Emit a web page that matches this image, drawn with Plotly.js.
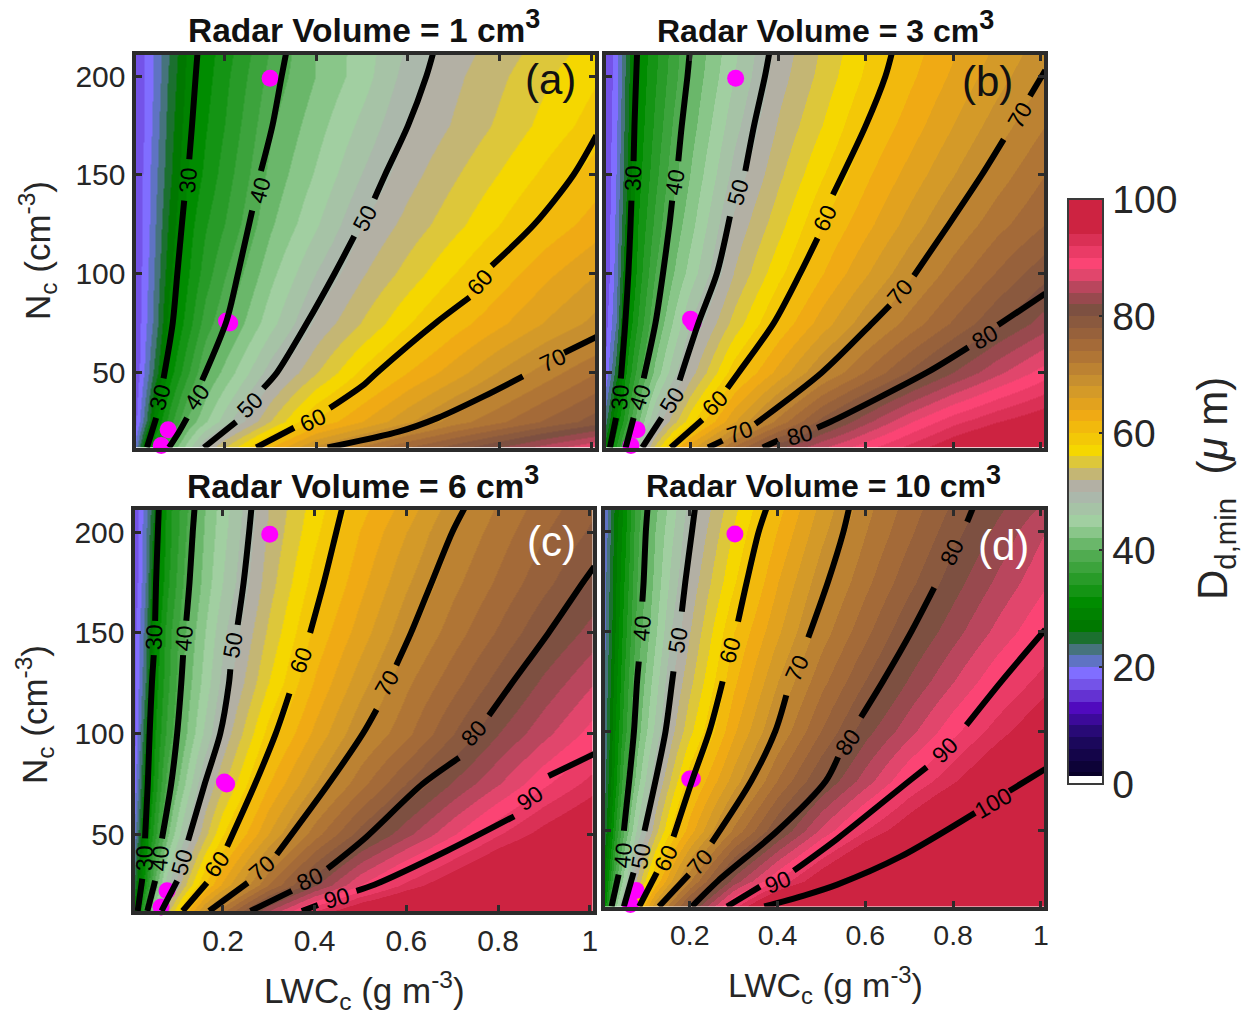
<!DOCTYPE html>
<html><head><meta charset="utf-8">
<script src="https://cdn.plot.ly/plotly-3.0.0.min.js"></script>
<style>html,body{margin:0;padding:0;background:#fff}</style></head>
<body><div id="chart" style="width:1255px;height:1021px"></div>
<script>
const lwc=[0.005,0.03,0.05,0.08,0.12,0.16,0.2,0.3,0.4,0.5,0.6,0.7,0.8,0.9,1.01];
const nc=[12,25,50,75,100,125,150,175,200,212];
const zA=[
[20,29.5,34,40,45,50.3,54,62,68.7,72.5,76,79,82,85,88],
[17,24,30,35,40.4,43.8,47,54,60.4,64,67.6,71,73.6,76.3,79],
[16,21,25,31,35.6,40,42.6,49,53.9,58.5,62,65,68.2,71,74],
[16,20,23,29,33,37,39.6,45.3,50.5,54.2,57.8,61,63.6,66.2,68.7],
[16,19.5,22.5,27.5,31.7,35,37.8,43.4,48.1,51.8,54.8,57.9,60.8,63.5,66],
[16,19,22,26.5,31,33.8,36,41.7,45.8,50,52.7,55.3,58,60.6,63],
[16,19,21.5,25.5,30,32.5,34.9,40.6,44.3,48.1,51.2,53.7,56.1,58.5,61],
[16,18.5,21,25,29.2,31.8,34,39.7,43.2,46.6,50,52.2,54.4,56.7,59],
[16,18.5,20.5,24.5,28.5,31.2,33.4,38.7,42.1,45.1,48.9,51.5,53.6,55.7,57.8],
[16,18.5,20.5,24,28.4,31,33,38.2,42.1,45,48.3,51,53,55,57]];
const zB=[
[27,34,39.5,47,54.6,60.6,65.3,74.4,81.5,85.7,89.3,92.7,96,98.7,100],
[23,30.5,35,41.7,48.3,53.2,57.4,65.8,72.7,78.8,83.5,87.8,91.3,93.9,96],
[18,25,31.5,37,42.6,47.2,51.2,59.2,64.7,70,74.2,78.3,82,85.5,89],
[17,22,29.5,34.2,40,44.2,48.2,54.8,60.4,65,69.3,72.9,76.3,79.7,83],
[16,21,27.5,32.8,38,41.9,45,52.1,57.4,61.9,65.8,69.6,73,76.2,79.4],
[16,20.5,26,32,36.5,40.6,43.4,50.5,55.2,60,63.4,66.9,70.3,73.3,76],
[16,20,25,31.2,35.3,39.3,42.2,48.7,53.5,57.8,61.6,64.8,67.9,71,74],
[16,19.5,24.5,30.7,34.4,38.2,41.2,47.3,52.2,56,60,63,66,69,72],
[16,19,24,30.3,33.7,37.2,40.4,46,51.1,54.7,58.4,61.6,64.4,67.2,70],
[16,19,23.5,30.2,33.4,36.9,40.1,45.6,50.7,54.3,57.9,61.1,63.8,66.5,69.2]];
const zC=[
[27,37.5,45,53.2,61.4,68.3,73.3,84,92,97,100,102,104,105,106],
[24,33.5,40.5,47.6,54.3,60,64.4,74,81.6,88,92.6,96.3,100,102,104],
[20,30,35,41.7,48.3,53.3,57.8,66,73.1,78.9,83.4,87.7,91.8,95,98],
[18,28,32.7,39,44.5,50,53.6,61.9,68,73.3,78.1,82.2,85.9,89.6,93],
[17,26,31.7,36.7,42,46.4,50.5,58.8,64.5,69.7,73.5,77.9,82,85.4,89],
[17,24,30.8,35.5,41,44.8,48.6,56,62.2,67.2,71.6,75.2,78.9,82.5,86],
[17,23,30,35,40.3,43.9,47.5,54.4,60.5,65,69.5,73,76.3,79.7,83],
[16,22,28.5,33.6,39,42.8,46,53.1,58.9,63.4,67.7,71.4,74.4,77.4,80.5],
[16,21.5,27,33,38.1,42.2,45.3,52.3,57.5,62.1,66,70,73,75.8,78.5],
[16,21,26,33,37.7,41.9,45,52,57,61.3,64.9,69,72.3,75,77.7]];
const zD=[
[30,43,50,58.6,67.8,74,79.7,91.5,101,108,112,115,115,115,115],
[28,39,45,52.5,60.3,66.3,71.9,83,90.3,96.4,102,106,110,112,115],
[24,34,40,46.4,53.2,58.6,63.2,72.6,80,86.5,92,96.2,100.4,104.5,108],
[23,31,37.5,43,49.7,54.6,59.4,67,74.2,80,85,90,93.7,97.4,101],
[22,30,35,41,46.5,51.5,55.5,63.7,70.3,76,81.2,85.3,89.4,93,96.5],
[22,29,34,40,45,50,53.5,61.6,68,73.3,78,82.2,85.9,89.6,93],
[21,28,33,38.8,43.6,48.2,52,60,65.7,71,75.4,79.8,83.2,86.6,90],
[21,27.5,32,38,42.6,46.8,50.7,57.8,64,69.2,73.4,77.4,81.1,84.4,87.7],
[20,27,31,37.5,42,45.7,49.5,56.3,62.2,67.4,71.9,75.6,79.3,82.5,86],
[20,26.5,30.5,37,41.5,45.1,48.9,55.5,61.3,66.6,71.3,74.9,78.4,81.5,84.5]];
// Iso-lines: [LWC values],[Nc values]; null marks the gap left for a label
const _=null;
const linesA=[
 [[.032,.052,_,.068,.088,.098,.108,.113,_,.124,.13,.138,.142],[12,27,_,47,75,100,125,137,_,158,175,200,212]],
 [[.08,.102,.119,_,.152,.205,.23,.261,_,.28,.305,.325,.335],[12,20,27,_,46,76,100,132,_,152,175,200,212]],
 [[.156,.226,_,.285,.315,.38,.44,.483,_,.527,.55,.60,.64,.655],[12,25,_,42,50,75,100,119,_,138,150,175,200,212]],
 [[.27,.352,_,.43,.505,.533,.66,.734,_,.782,.875,.96,1.01],[12,22,_,32,44,50,75,88,_,104,125,150,170]],
 [[.425,.58,.665,.766,.85,_,.94,1.01],[12,20,27,38,48,_,60,68]]];
const linesB=[
 [[.016,.03,_,.041,.051,.058,.063,.065,_,.07,.072,.076,.078],[12,27,_,47,75,100,125,137,_,157,175,200,212]],
 [[.052,.07,_,.093,.12,.137,.152,.158,_,.172,.18,.193,.198],[12,27,_,47,75,100,125,137,_,157,175,200,212]],
 [[.09,.134,_,.175,.218,.26,.29,_,.325,.345,.37,.38],[12,27,_,46,75,100,129,_,152,175,200,212]],
 [[.155,.227,_,.284,.31,.39,.45,.49,_,.525,.60,.645,.66],[12,26,_,42,50,75,100,118,_,140,175,200,212]],
 [[.24,.273,_,.348,.50,.615,.655,_,.71,.79,.865,.915,_,.975,1.01],[12,15.5,_,24,50,75,84,_,99,125,150,168,_,190,203]],
 [[.365,.40,_,.489,.52,.74,.834,_,.902,1.01],[12,15.5,_,22,25,50,62.7,_,74,90]]];
const linesC=[
 [[.014,.024,_,.03,.036,.04,.045,.049,_,.052,.054,.058,.06],[12,28,_,48,75,100,125,139,_,156,175,200,212]],
 [[.035,.052,_,.067,.087,.10,.109,.113,_,.12,.127,.134,.138],[12,27,_,48,75,100,125,139,_,156,175,200,212]],
 [[.066,.10,_,.124,.16,.194,.213,.216,_,.232,.245,.257,.262],[12,27,_,47,75,100,125,132,_,154,175,200,212]],
 [[.112,.165,_,.209,.27,.315,.345,_,.39,.42,.447,.46],[12,26,_,44,75,100,120,_,150,175,200,212]],
 [[.17,.254,_,.317,.43,.505,.535,_,.578,.61,.655,.70,.727],[12,26,_,40,75,100,112,_,134,150,175,200,212]],
 [[.26,.35,_,.428,.509,.635,.715,_,.78,.83,.91,.985,1.01],[12,22,_,33,48,75,88,_,109,125,150,175,183]],
 [[.372,.407,_,.491,.53,.69,.835,_,.91,1.01],[12,15,_,22,25,42,59,_,79,90]]];
const linesD=[
 [[.022,.038,_,.05,.062,.073,.08,.084,_,.092,.095,.10,.104],[12,28,_,50,75,100,125,135,_,165,175,200,212]],
 [[.05,.072,_,.097,.122,.145,.16,.163,_,.182,.19,.205,.212],[12,29,_,50,75,100,125,130,_,160,175,200,212]],
 [[.085,.125,_,.163,.205,.245,.275,_,.31,.33,.357,.375],[12,29,_,47,75,100,125,_,155,175,200,212]],
 [[.13,.198,_,.25,.34,.395,.42,_,.47,.515,.55,.563],[12,28,_,44,75,100,118,_,147,175,200,212]],
 [[.205,.265,.40,.51,.538,_,.59,.64,.705,.757,_,.832,.845],[12,25,50,75,87,_,107,125,150,172,_,205,212]],
 [[.285,.36,_,.437,.536,.70,.74,_,.83,.91,1.01],[12,22,_,30,46,75,82,_,103,125,151]],
 [[.37,.46,.536,.68,.85,_,.928,1.01],[12,17.5,23,37,59,_,70,81]]];
// Inline labels: text, page x, page y, rotation
const labelsA=[["30",160,397,-75],["30",188,180,-85],["40",197,397,-55],["40",260,190,-75],["50",250,405,-45],["50",365,218,-62],["60",313,420,-25],["60",480,282,-48],["70",553,360,-25]];
const labelsB=[["30",620,397,-85],["30",633,178,-88],["40",640,397,-72],["40",675,182,-80],["50",672,400,-58],["50",738,192,-75],["60",715,403,-45],["60",825,218,-65],["70",740,432,-20],["70",900,292,-50],["70",1020,115,-60],["80",800,435,-15],["80",985,337,-30]];
const labelsC=[["30",145,858,-90],["30",154,637,-88],["40",160,858,-85],["40",184,638,-85],["50",182,862,-75],["50",233,645,-80],["60",217,864,-55],["60",301,660,-70],["70",262,868,-40],["70",387,683,-60],["80",310,879,-25],["80",474,733,-48],["90",337,898,-15],["90",530,798,-35]];
const labelsD=[["40",623,855,-85],["40",642,628,-85],["50",641,856,-80],["50",678,640,-80],["60",666,858,-65],["60",730,650,-75],["70",700,862,-50],["70",797,668,-65],["80",848,742,-55],["80",952,552,-65],["90",778,882,-22],["90",945,750,-45],["100",993,803,-30]];
const ptsLwc=[[0.3,0.205,0.212,0.078,0.063],[0.303,0.2,0.206,0.078,0.064],[0.302,0.203,0.208,0.078,0.065],[0.303,0.2,0.206,0.078,0.065]];
const ptsNc=[[199,76,75,21,13],[199,77,75,21,13],[199,76,75,22,14],[199,76,76,20,13]];
const volumes=["1","3","6","10"];
const letters=["(a)","(b)","(c)","(d)"];
const xTicks=[0.2,0.4,0.6,0.8,1];
const xTickText=["0.2","0.4","0.6","0.8","1"];
const yTicks=[50,100,150,200];
const cbTicks=[0,20,40,60,80,100];

// Colour anchors: [value, r, g, b]
const anchors=[[1.4,8,0,40],[8,30,10,100],[13,80,10,190],[16,110,70,220],[19,128,110,255],[21,95,115,195],[23,70,115,125],[24.5,40,110,70],[26,0,115,0],[31,0,140,0],[35,40,155,40],[40,90,175,90],[44.5,160,210,160],[50.5,175,175,175],[52.5,190,178,130],[57,245,215,0],[63,240,170,20],[68,205,150,45],[74,170,110,55],[81,125,80,65],[84,165,70,85],[88.5,255,70,120],[92,225,55,95],[95,205,35,65],[100,205,35,65]];
function colorAt(v){
  if(v<=anchors[0][0])return `rgb(${anchors[0].slice(1)})`;
  for(let i=1;i<anchors.length;i++){
    if(v<=anchors[i][0]){
      const a=anchors[i-1],b=anchors[i],t=(v-a[0])/(b[0]-a[0]);
      return `rgb(${[1,2,3].map(k=>Math.round(a[k]+t*(b[k]-a[k])))})`;
    }
  }
  return `rgb(${anchors[anchors.length-1].slice(1)})`;
}
const cs=[[0,'#ffffff'],[0.014,'#ffffff']];
let prev=0.014;
for(let i=0;i<50;i++){
  const hi=(i+1)/50; const c=colorAt((i+0.5)*2);
  cs.push([prev,c]);cs.push([hi,c]);prev=hi;
}
const W=1255,H=1021;
const FONT='"Liberation Sans", Arial, sans-serif', INK='#262626', FRAME='#2b2b2b';
const XR=[0.007,1.007], YR=[12,211];
const boxes=[
 {l:135.5,r:595,t:54.5,b:447.5},
 {l:606,r:1044,t:54.5,b:447.5},
 {l:134.5,r:593,t:510,b:911},
 {l:605,r:1044,t:510,b:906.5}];
const zs=[zA,zB,zC,zD];
const lines=[linesA,linesB,linesC,linesD];
const labels=[labelsA,labelsB,labelsC,labelsD];
const traces=[];
const layout={width:W,height:H,margin:{l:0,r:0,t:0,b:0},paper_bgcolor:'#fff',plot_bgcolor:'#fff',showlegend:false,
  font:{family:FONT,color:INK},annotations:[]};
function note(text,x,y,size,color,angle){
  layout.annotations.push({xref:'paper',yref:'paper',x:x/W,y:1-y/H,xanchor:'center',yanchor:'middle',showarrow:false,textangle:angle||0,
    text:text,font:{size:size,color:color,family:FONT}});
}
boxes.forEach((b,i)=>{
  const n=i+1, sfx=n===1?'':n, ov=n+4;
  const dx=[b.l/W,b.r/W], dy=[1-b.b/H,1-b.t/H];
  const axis={ticks:'inside',ticklen:6,tickwidth:3,tickcolor:FRAME,showline:true,mirror:'ticks',linecolor:FRAME,linewidth:4,showgrid:false,zeroline:false,
    automargin:false,tickmode:'array'};
  layout['xaxis'+sfx]=Object.assign({domain:dx,range:XR,anchor:'y'+sfx,tickvals:xTicks,ticktext:xTickText,showticklabels:i>=2,tickfont:{size:i===3?28.5:30,color:INK,family:FONT}},axis);
  layout['yaxis'+sfx]=Object.assign({domain:dy,range:YR,anchor:'x'+sfx,tickvals:yTicks,ticktext:yTicks.map(String),showticklabels:i%2===0,tickfont:{size:30,color:INK,family:FONT}},axis);
  layout['xaxis'+ov]={domain:dx,range:XR,overlaying:'x'+sfx,anchor:'y'+ov,visible:false};
  layout['yaxis'+ov]={domain:dy,range:YR,overlaying:'y'+sfx,anchor:'x'+ov,visible:false};
  const heat={type:'heatmap',x:lwc,y:nc,z:zs[i],xaxis:'x'+sfx,yaxis:'y'+sfx,zmin:0,zmax:100,zauto:false,colorscale:cs,zsmooth:'best',hoverinfo:'skip',showscale:i===3};
  if(i===3){
    heat.colorbar={lenmode:'pixels',len:585,thicknessmode:'pixels',thickness:35,x:1067.5/W,xanchor:'left',xpad:0,y:1-784/H,yanchor:'bottom',ypad:0,
      tickmode:'array',tickvals:cbTicks,ticktext:cbTicks.map(String),ticks:'inside',ticklen:5,tickwidth:2,tickcolor:FRAME,outlinecolor:'#3a3a3a',outlinewidth:2,
      tickfont:{size:39,color:INK,family:FONT}};
  }
  traces.push(heat);
  traces.push({type:'scatter',mode:'markers',x:ptsLwc[i],y:ptsNc[i],xaxis:'x'+sfx,yaxis:'y'+sfx,cliponaxis:false,marker:{size:17,color:'#ff00ff'},hoverinfo:'skip'});
  lines[i].forEach(l=>{
    traces.push({type:'scatter',mode:'lines',x:l[0],y:l[1],xaxis:'x'+ov,yaxis:'y'+ov,connectgaps:false,hoverinfo:'skip',
      line:{color:'#000',width:6,shape:'spline',smoothing:0.8}});
  });
  labels[i].forEach(t=>note(t[0],t[1],t[2],23,'#000',t[3]));
  note(`<b>Radar Volume = ${volumes[i]} cm<sup><span style="font-size:27px">3</span></sup></b>`,[364,825,362.5,824][i],i<2?27:482,i%2?32:33.5,'#111');
  note(letters[i],[550,987,551,1003][i],[80,82,541,545][i],42,i<2?'#111':'#fff');
});
const NC='N<sub>c</sub> (cm<sup>-3</sup>)', LW='LWC<sub>c</sub> (g m<sup>-3</sup>)';
note(NC,37,251,35,INK,-90);
note(NC,34,715,35,INK,-90);
note(LW,364,990,35,INK);
note(LW,825,985,34,INK);
note('D<sub>d,min</sub>\u00a0 (<i>μ</i> m)',1215,489,42,INK,-90);
Plotly.newPlot('chart',traces,layout,{displayModeBar:false,staticPlot:true});
</script></body></html>
